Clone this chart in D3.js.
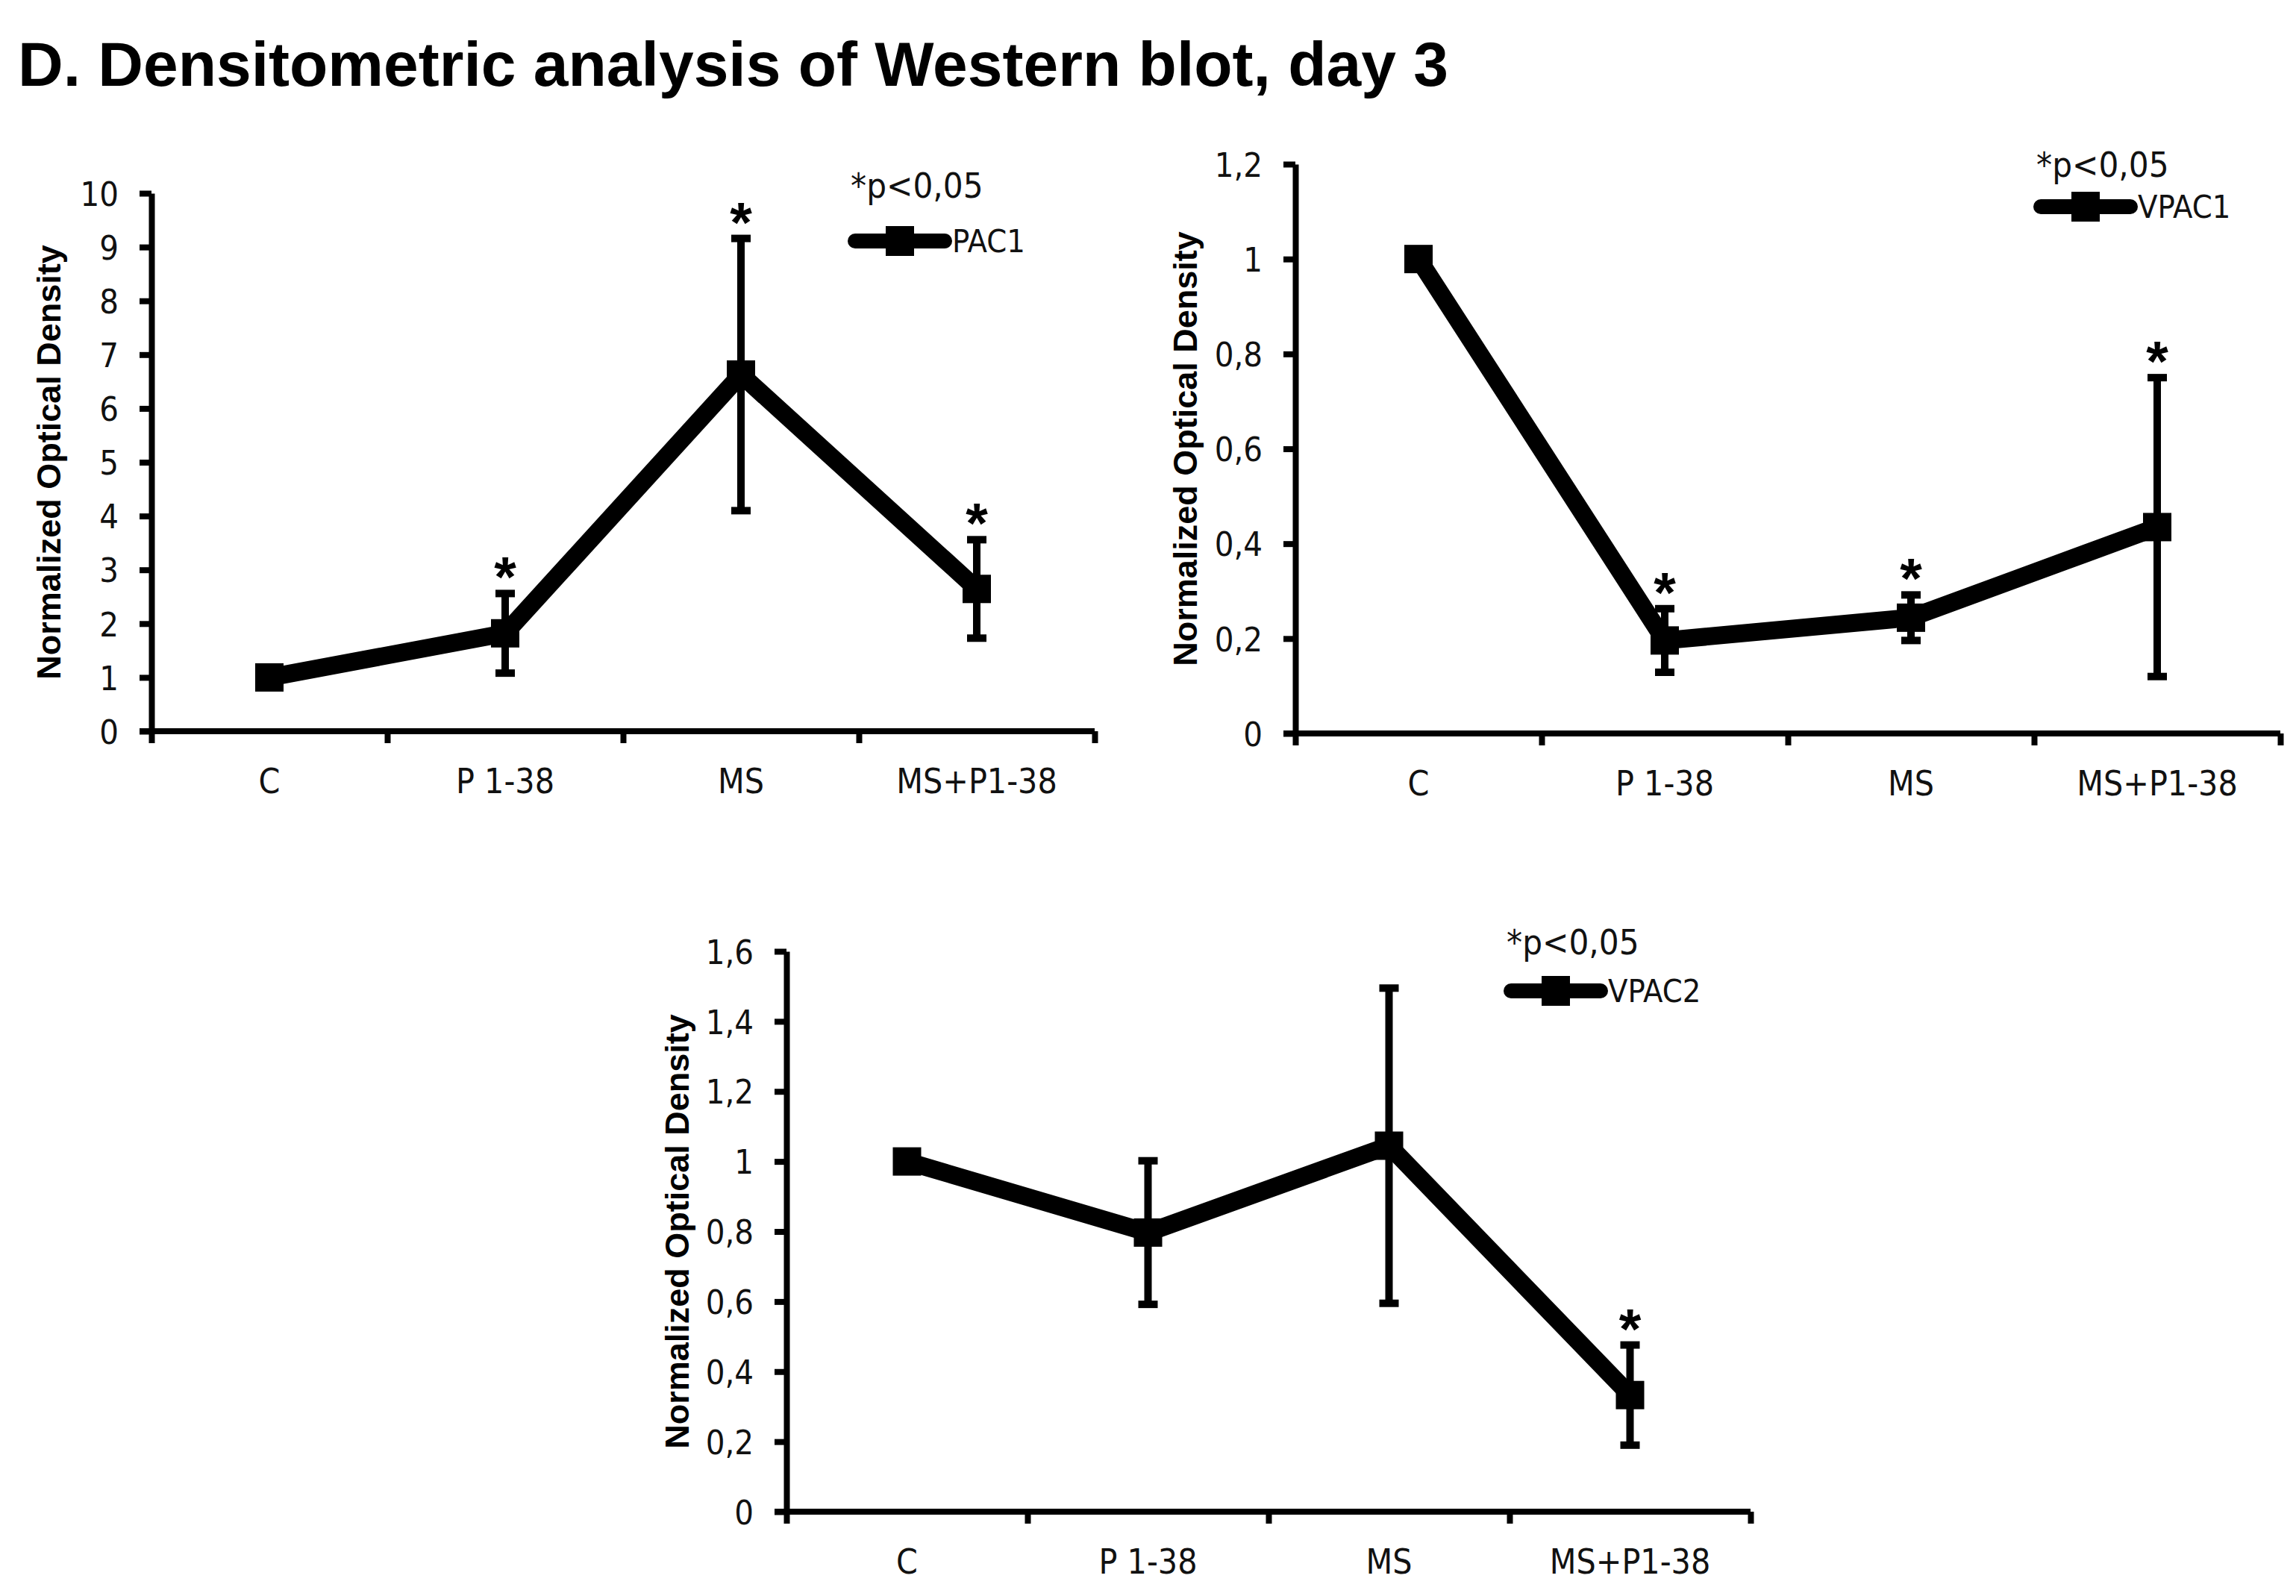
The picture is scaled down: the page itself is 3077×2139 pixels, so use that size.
<!DOCTYPE html>
<html>
<head>
<meta charset="utf-8">
<script src="https://cdn.jsdelivr.net/npm/d3@7"></script>
<style>
  body { margin: 0; background: #fff; }
  svg { display: block; }
  .tick text, .cat, .ptxt, .legtxt { font-family: "Liberation Sans Narrow", "DejaVu Sans Condensed", sans-serif; fill: #111; }
</style>
</head>
<body>
<svg id="fig" width="3077" height="2139"></svg>
<script>
// categories, shared by the three panels
var categorias = ["C", "P 1-38", "MS", "MS+P1-38"];

// PAC1
var pac1Media = [1, 1.82, 6.63, 2.645];
var pac1Erro  = [0, 0.74, 2.53, 0.915];
var pac1Sig   = [false, true, true, true];
var pac1Ticks = [0, 1, 2, 3, 4, 5, 6, 7, 8, 9, 10];

// VPAC1
var vpac1Media = [1, 0.196, 0.244, 0.435];
var vpac1Erro  = [0, 0.067, 0.048, 0.315];
var vpac1Sig   = [false, true, true, true];
var vpac1Ticks = [0, 0.2, 0.4, 0.6, 0.8, 1, 1.2];

// VPAC2
var vpac2Media = [1, 0.797, 1.045, 0.333];
var vpac2Erro  = [0, 0.205, 0.45, 0.143];
var vpac2Sig   = [false, false, false, true];
var vpac2Ticks = [0, 0.2, 0.4, 0.6, 0.8, 1, 1.2, 1.4, 1.6];

var tituloTexto = "D. Densitometric analysis of Western blot, day 3";
var eixoY = "Normalized Optical Density";
var pTexto = "*p<0,05";

var svg = d3.select("#fig");
var br = d3.formatLocale({decimal: ",", thousands: ".", grouping: [3], currency: ["", ""]});
var fmt = br.format("~g");

svg.append("text")
  .attr("x", 24)
  .attr("y", 115)
  .style("font-family", "Liberation Sans, Arial, sans-serif")
  .style("font-weight", "bold")
  .style("font-size", "84px")
  .text(tituloTexto);

function fazPainel(cfg) {
  var g = svg.append("g");

  var x = d3.scaleBand().domain(categorias).range([cfg.left, cfg.right]).padding(0);
  var xt = d3.scaleLinear().domain([0, categorias.length]).range([cfg.left, cfg.right]);
  var y = d3.scaleLinear().domain([0, cfg.ticks[cfg.ticks.length - 1]]).range([cfg.bottom, cfg.top]);

  // y axis
  var ay = g.append("g")
    .attr("transform", "translate(" + cfg.left + ",0)")
    .call(d3.axisLeft(y).tickValues(cfg.ticks).tickFormat(fmt).tickSize(16).tickSizeOuter(0).tickPadding(28));
  ay.select(".domain").attr("stroke-width", 8).attr("stroke", "#000");
  ay.selectAll(".tick line").attr("stroke-width", 8).attr("stroke", "#000");
  ay.selectAll(".tick text").style("font-size", "45px").attr("dy", "0.36em");

  // x axis: ticks on band edges
  var ax = g.append("g")
    .attr("transform", "translate(0," + cfg.bottom + ")")
    .call(d3.axisBottom(xt).tickValues(d3.range(categorias.length + 1)).tickFormat("").tickSize(16).tickSizeOuter(0));
  ax.select(".domain").attr("stroke-width", 8).attr("stroke", "#000").attr("d", "M" + (cfg.left - 16) + ",0H" + cfg.right);
  ax.selectAll(".tick line").attr("stroke-width", 8).attr("stroke", "#000");

  // category labels at band centres
  g.append("g")
    .attr("transform", "translate(0," + cfg.bottom + ")")
    .call(d3.axisBottom(x).tickSize(0).tickPadding(50))
    .call(function(s) { s.select(".domain").remove(); })
    .selectAll(".tick text").style("font-size", "46px");

  // y title
  g.append("text")
    .attr("transform", "translate(" + (cfg.left - cfg.labelOff) + "," + ((cfg.top + cfg.bottom) / 2) + ") rotate(-90)")
    .attr("text-anchor", "middle")
    .attr("dy", "0.36em")
    .style("font-family", "Liberation Sans, Arial, sans-serif")
    .style("font-weight", "bold")
    .style("font-size", "45px")
    .text(eixoY);

  var dados = categorias.map(function(c, i) {
    return {cat: c, v: cfg.media[i], e: cfg.erro[i], s: cfg.sig[i]};
  });

  // error bars
  var eb = g.append("g").selectAll("g")
    .data(dados.filter(function(d) { return d.e > 0; }))
    .enter().append("g");
  eb.append("line")
    .attr("x1", function(d) { return x(d.cat) + x.bandwidth() / 2; })
    .attr("x2", function(d) { return x(d.cat) + x.bandwidth() / 2; })
    .attr("y1", function(d) { return y(d.v - d.e); })
    .attr("y2", function(d) { return y(d.v + d.e); })
    .attr("stroke", "#000").attr("stroke-width", 10);
  eb.selectAll(".cap")
    .data(function(d) { return [{cat: d.cat, val: d.v + d.e}, {cat: d.cat, val: d.v - d.e}]; })
    .enter().append("line")
    .attr("class", "cap")
    .attr("x1", function(d) { return x(d.cat) + x.bandwidth() / 2 - 13; })
    .attr("x2", function(d) { return x(d.cat) + x.bandwidth() / 2 + 13; })
    .attr("y1", function(d) { return y(d.val); })
    .attr("y2", function(d) { return y(d.val); })
    .attr("stroke", "#000").attr("stroke-width", 10);

  // the line
  var linha = d3.line()
    .x(function(d) { return x(d.cat) + x.bandwidth() / 2; })
    .y(function(d) { return y(d.v); });
  g.append("path")
    .datum(dados)
    .attr("d", linha)
    .attr("fill", "none")
    .attr("stroke", "#000")
    .attr("stroke-width", 24)
    .attr("stroke-linejoin", "bevel");

  g.append("g").selectAll("rect")
    .data(dados)
    .enter().append("rect")
    .attr("x", function(d) { return x(d.cat) + x.bandwidth() / 2 - 19; })
    .attr("y", function(d) { return y(d.v) - 19; })
    .attr("width", 38)
    .attr("height", 38)
    .attr("fill", "#000");

  // significance stars
  g.append("g").selectAll("text")
    .data(dados.filter(function(d) { return d.s; }))
    .enter().append("text")
    .attr("x", function(d) { return x(d.cat) + x.bandwidth() / 2; })
    .attr("y", function(d) { return y(d.v + d.e) + 4; })
    .attr("text-anchor", "middle")
    .style("font-family", "Liberation Sans, Arial, sans-serif")
    .style("font-weight", "bold")
    .style("font-size", "76px")
    .text("*");

  // legend
  g.append("text")
    .attr("class", "ptxt")
    .attr("x", cfg.leg.x)
    .attr("y", cfg.leg.py)
    .style("font-size", "47px")
    .text(pTexto);
  g.append("line")
    .attr("x1", cfg.leg.x + 6).attr("x2", cfg.leg.x + 126)
    .attr("y1", cfg.leg.ly).attr("y2", cfg.leg.ly)
    .attr("stroke", "#000").attr("stroke-width", 20).attr("stroke-linecap", "round");
  g.append("rect")
    .attr("x", cfg.leg.x + 66 - 19).attr("y", cfg.leg.ly - 20)
    .attr("width", 38).attr("height", 40)
    .attr("fill", "#000");
  g.append("text")
    .attr("class", "legtxt")
    .attr("x", cfg.leg.x + 136)
    .attr("y", cfg.leg.ly)
    .attr("dy", "0.36em")
    .style("font-size", "43px")
    .text(cfg.nome);
}

fazPainel({
  left: 203, right: 1467, top: 259, bottom: 980, labelOff: 138,
  media: pac1Media, erro: pac1Erro, sig: pac1Sig, ticks: pac1Ticks, nome: "PAC1",
  leg: {x: 1140, py: 265, ly: 323}
});

fazPainel({
  left: 1736, right: 3056, top: 220, bottom: 983, labelOff: 148,
  media: vpac1Media, erro: vpac1Erro, sig: vpac1Sig, ticks: vpac1Ticks, nome: "VPAC1",
  leg: {x: 2729, py: 237, ly: 277}
});

fazPainel({
  left: 1054, right: 2346, top: 1275, bottom: 2026, labelOff: 147,
  media: vpac2Media, erro: vpac2Erro, sig: vpac2Sig, ticks: vpac2Ticks, nome: "VPAC2",
  leg: {x: 2019, py: 1279, ly: 1328}
});
</script>
</body>
</html>
